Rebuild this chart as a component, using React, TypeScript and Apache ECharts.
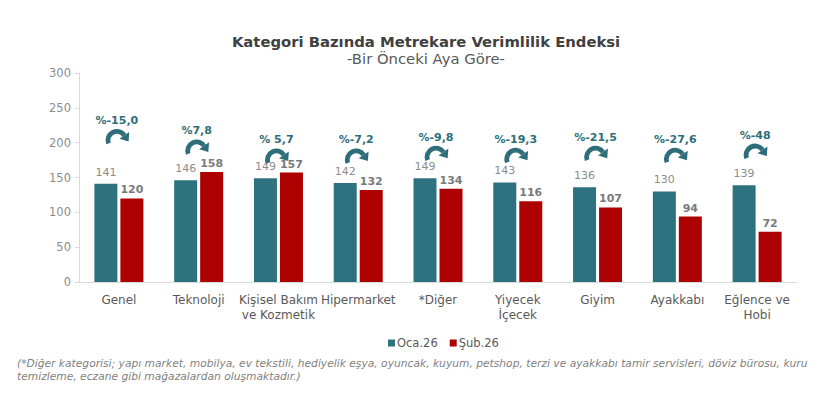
import React, { useEffect, useRef } from "react";
import * as echarts from "echarts";

const categories = [
  "Genel",
  "Teknoloji",
  "Kişisel Bakım\nve Kozmetik",
  "Hipermarket",
  "*Diğer",
  "Yiyecek\nİçecek",
  "Giyim",
  "Ayakkabı",
  "Eğlence ve\nHobi",
];
const seriesNames = ["Oca.26", "Şub.26"];
const ocaValues = [141, 146, 149, 142, 149, 143, 136, 130, 139];
const subValues = [120, 158, 157, 132, 134, 116, 107, 94, 72];
const changeLabels = ["%-15,0", "%7,8", "% 5,7", "%-7,2", "%-9,8", "%-19,3", "%-21,5", "%-27,6", "%-48"];
// vertical position (in axis units) of each change annotation
const changeLabelY = [232, 217, 204, 204, 208, 205, 208, 205, 211];
const yTicks = { min: 0, max: 300, interval: 50 };

const TEAL = "#2E7280";
const RED = "#AD0000";
const ANNOT = "#2E6E7A";
const FONT = "DejaVu Sans, Verdana, sans-serif";

export default function App() {
  const ref = useRef<HTMLDivElement>(null);
  useEffect(() => {
    if (!ref.current) return;
    const chart = echarts.init(ref.current, undefined, { renderer: "svg" });
    const option: any = {
      animation: false,
      textStyle: { fontFamily: FONT },
      grid: { left: 79, right: 23, top: 73, bottom: 113, containLabel: false },
      legend: {
        data: seriesNames,
        left: 383,
        top: 332,
        itemWidth: 7,
        itemHeight: 7,
        itemGap: 12,
        icon: "rect",
        textStyle: { color: "#595959", fontSize: 11.5, fontFamily: FONT, padding: [0, 0, 0, -3] },
      },
      xAxis: {
        type: "category",
        data: categories,
        axisLine: { lineStyle: { color: "#d9d9d9" } },
        axisTick: { show: false },
        axisLabel: {
          interval: 0,
          color: "#595959",
          fontSize: 12,
          fontFamily: FONT,
          margin: 10,
          lineHeight: 15,
        },
      },
      yAxis: {
        type: "value",
        min: yTicks.min,
        max: yTicks.max,
        interval: yTicks.interval,
        splitLine: { show: false },
        axisLine: { show: true, lineStyle: { color: "#d9d9d9" } },
        axisTick: { show: true, length: 4, lineStyle: { color: "#d9d9d9" } },
        axisLabel: { color: "#8c8c8c", fontSize: 11.5, fontFamily: FONT, margin: 8 },
      },
      series: [
        {
          name: seriesNames[0],
          type: "bar",
          data: ocaValues,
          barWidth: 23,
          barGap: "13%",
          itemStyle: { color: TEAL },
          label: {
            show: true,
            position: "top",
            distance: 6,
            color: "#8c8c8c",
            fontSize: 11,
            fontFamily: FONT,
          },
        },
        {
          name: seriesNames[1],
          type: "bar",
          data: subValues,
          barWidth: 23,
          itemStyle: { color: RED },
          label: {
            show: true,
            position: "top",
            distance: 3,
            color: "#7a7a7a",
            fontWeight: "bold",
            fontSize: 11,
            fontFamily: FONT,
          },
        },
        {
          name: "annot",
          type: "custom",
          silent: true,
          data: changeLabelY.map((v, i) => [i, v]),
          encode: { x: 0, y: 1 },
          z: 10,
          renderItem: (params: any, api: any) => {
            const idx = api.value(0);
            const p = api.coord([idx, api.value(1)]);
            const x = p[0] - 2;
            const y = p[1];
            const r = 9;
            const lw = 4.8;
            const cx = x;
            const cy = y + 20;
            const a0 = Math.PI - 0.35;
            const a1 = 2 * Math.PI - 0.6;
            const ex = cx + r * Math.cos(a1);
            const ey = cy + r * Math.sin(a1);
            const dx = -Math.sin(a1);
            const dy = Math.cos(a1);
            const nx = Math.cos(a1);
            const ny = Math.sin(a1);
            const tip = [ex + dx * 7.5, ey + dy * 7.5];
            const b1 = [ex + nx * 6, ey + ny * 6];
            const b2 = [ex - nx * 6, ey - ny * 6];
            return {
              type: "group",
              children: [
                {
                  type: "text",
                  style: {
                    text: changeLabels[idx],
                    x: x,
                    y: y,
                    align: "center",
                    verticalAlign: "middle",
                    fill: ANNOT,
                    fontSize: 11,
                    fontWeight: "bold",
                    fontFamily: FONT,
                  },
                },
                {
                  type: "arc",
                  shape: { cx, cy, r, startAngle: a0, endAngle: a1, clockwise: true },
                  style: { stroke: ANNOT, lineWidth: lw, fill: null },
                },
                {
                  type: "polygon",
                  shape: { points: [tip, b1, b2] },
                  style: { fill: ANNOT },
                },
              ],
            };
          },
        },
      ],
      graphic: [
        {
          type: "text",
          x: 426,
          y: 41,
          style: {
            text: "Kategori Bazında Metrekare Verimlilik Endeksi",
            align: "center",
            verticalAlign: "middle",
            fill: "#404040",
            fontSize: 14.8,
            fontWeight: "bold",
            fontFamily: FONT,
          },
        },
        {
          type: "text",
          x: 426,
          y: 58.5,
          style: {
            text: "-Bir Önceki Aya Göre-",
            align: "center",
            verticalAlign: "middle",
            fill: "#595959",
            fontSize: 14.8,
            fontFamily: FONT,
          },
        },
        {
          type: "text",
          x: 17,
          y: 357,
          style: {
            text:
              "(*Diğer kategorisi; yapı market, mobilya, ev tekstili, hediyelik eşya, oyuncak, kuyum, petshop, terzi ve ayakkabı tamir servisleri, döviz bürosu, kuru\ntemizleme, eczane gibi mağazalardan oluşmaktadır.)",
            align: "left",
            verticalAlign: "top",
            fill: "#7f7f7f",
            fontSize: 10.7,
            fontStyle: "italic",
            lineHeight: 13,
            fontFamily: FONT,
          },
        },
      ],
    };
    chart.setOption(option);
    return () => chart.dispose();
  }, []);
  return (
    <div
      ref={ref}
      style={{ position: "fixed", left: 0, top: 0, width: 820, height: 395, background: "#fff" }}
    />
  );
}
